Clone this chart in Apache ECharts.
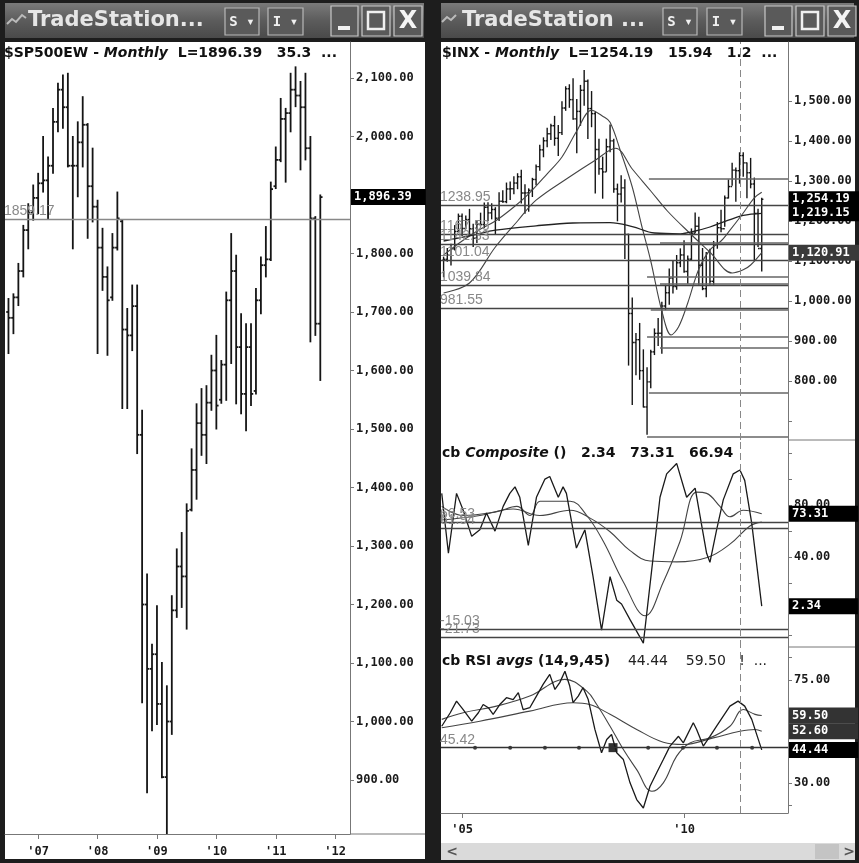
<!DOCTYPE html>
<html>
<head>
<meta charset="utf-8">
<script src="https://cdn.jsdelivr.net/npm/echarts@6/dist/echarts.min.js"></script>
<style>
html,body{margin:0;padding:0;background:#fff}
#chart{width:859px;height:863px}
</style>
</head>
<body>
<div id="chart"></div>
<script>
// ---- left window: $SP500EW monthly bars, Jul 2006 .. Oct 2011
const leftFirst = [2006, 7];
const leftOpen  = [1700,1690,1725,1770,1840,1870,1895,1920,1925,1950,2025,2080,2050,1950,1950,1990,2020,1915,1880,1810,1760,1725,1810,1855,1670,1660,1710,1490,1200,1090,1115,1030,905,1000,1190,1265,1248,1362,1430,1510,1490,1545,1600,1550,1610,1720,1770,1640,1560,1640,1565,1720,1780,1790,1915,1960,2030,2040,2080,2070,2050,1980,1860,1680];
const leftHigh  = [1723,1731,1783,1848,1885,1917,1937,2000,1965,2048,2091,2105,2108,2000,2025,2068,2022,1980,1891,1843,1777,1834,1905,1857,1706,1746,1746,1532,1252,1132,1198,1101,1061,1215,1295,1323,1372,1466,1543,1569,1574,1626,1660,1617,1734,1834,1797,1697,1680,1680,1740,1794,1846,1922,1982,2065,2048,2108,2119,2094,2108,2000,1863,1900];
const leftLow   = [1629,1663,1711,1760,1808,1857,1868,1905,1860,1937,2008,2014,1948,1808,1897,1948,1826,1854,1629,1737,1626,1720,1806,1535,1535,1634,1458,1032,878,984,995,904,807,978,1178,1195,1158,1360,1380,1455,1441,1532,1500,1544,1549,1612,1543,1526,1497,1540,1560,1697,1760,1788,1911,1957,1922,2008,2051,1943,1960,1649,1660,1583];
const leftClose = [1690,1725,1770,1840,1870,1895,1920,1925,1950,2025,2080,2050,1950,1950,1990,2020,1915,1880,1810,1760,1720,1810,1860,1670,1660,1710,1490,1200,1090,1115,1030,905,1000,1190,1265,1248,1360,1430,1510,1490,1545,1600,1540,1610,1720,1770,1640,1560,1640,1560,1720,1780,1790,1910,1960,2030,2040,2080,2070,2050,1980,1860,1680,1896.39];
const leftYTicks = [900,1000,1100,1200,1300,1400,1500,1600,1700,1800,1900,2000,2100];
const leftXTicks = [0,12,24,36,48,60];          // months from Jan 2007
const leftXLabels = ["'07","'08","'09","'10","'11","'12"];

// ---- right window: $INX monthly bars, Aug 2004 .. Oct 2011
const rightFirst = [2004, 8];
const inxOpen  = [1101.7,1104.2,1114.6,1130.2,1173.8,1211.9,1181.3,1203.6,1180.6,1156.9,1191.5,1191.3,1234.2,1220.3,1228.8,1207.0,1249.5,1248.3,1280.1,1280.7,1294.9,1310.6,1270.1,1270.2,1276.7,1303.8,1335.9,1377.9,1400.6,1418.3,1438.2,1406.8,1420.9,1482.4,1530.6,1503.4,1455.3,1474.0,1526.8,1549.4,1481.1,1468.4,1378.6,1330.6,1322.7,1385.6,1400.4,1280.0,1267.4,1282.8,1166.4,968.8,896.2,903.3,825.9,735.1,797.9,872.8,919.1,919.3,987.5,1020.6,1057.1,1036.2,1095.6,1115.1,1073.9,1104.5,1169.4,1186.7,1089.4,1030.7,1101.6,1049.3,1141.2,1183.3,1180.6,1257.6,1286.1,1327.2,1325.8,1363.6,1345.2,1320.6,1292.6,1219.1,1131.2];
const inxHigh  = [1109.7,1131.5,1142.1,1188.5,1217.3,1217.8,1212.4,1229.1,1192.0,1199.6,1219.6,1245.2,1245.9,1243.1,1233.3,1270.6,1275.8,1294.9,1297.6,1310.9,1318.2,1326.7,1290.7,1280.4,1306.7,1340.3,1389.5,1407.9,1431.8,1441.6,1461.6,1438.9,1498.0,1535.6,1540.6,1555.9,1503.9,1539.0,1576.1,1552.8,1523.6,1471.8,1404.1,1359.7,1404.6,1440.2,1404.1,1292.2,1313.2,1303.0,1167.0,1007.5,918.9,943.9,877.9,832.9,876.9,930.2,956.2,996.7,1039.5,1080.2,1101.4,1113.7,1130.4,1150.5,1112.4,1180.2,1219.8,1209.6,1131.2,1121.0,1129.2,1148.9,1196.1,1227.1,1262.6,1302.7,1344.1,1332.3,1370.6,1370.6,1345.2,1356.5,1307.4,1229.3,1256.6];
const inxLow   = [1060.7,1099.2,1090.2,1127.6,1173.8,1163.8,1180.9,1163.7,1136.2,1146.2,1188.3,1183.6,1201.1,1205.4,1168.2,1201.1,1246.6,1245.7,1253.6,1268.4,1280.7,1245.3,1219.3,1224.5,1261.3,1290.9,1327.1,1360.6,1385.9,1404.0,1389.4,1364.0,1416.4,1476.7,1484.2,1454.3,1370.6,1439.3,1489.6,1406.1,1435.7,1270.1,1316.8,1257.0,1324.4,1373.1,1272.0,1200.4,1247.5,1106.4,839.8,741.0,815.7,804.2,735.1,666.8,783.3,866.1,888.9,869.3,978.5,992.0,1020.2,1029.4,1085.9,1071.6,1044.5,1101.4,1170.7,1040.8,1028.3,1010.9,1039.7,1041.2,1131.9,1173.0,1186.6,1257.6,1289.1,1249.1,1294.7,1311.8,1258.1,1282.9,1101.5,1136.2,1074.8];
const inxClose = [1104.2,1114.6,1130.2,1173.8,1211.9,1181.3,1203.6,1180.6,1156.9,1191.5,1191.3,1234.2,1220.3,1228.8,1207.0,1249.5,1248.3,1280.1,1280.7,1294.9,1310.6,1270.1,1270.2,1276.7,1303.8,1335.9,1377.9,1400.6,1418.3,1438.2,1406.8,1420.9,1482.4,1530.6,1503.4,1455.3,1474.0,1526.8,1549.4,1481.1,1468.4,1378.6,1330.6,1322.7,1385.6,1400.4,1280.0,1267.4,1282.8,1166.4,968.8,896.2,903.3,825.9,735.1,797.9,872.8,919.1,919.3,987.5,1020.6,1057.1,1036.2,1095.6,1115.1,1073.9,1104.5,1169.4,1186.7,1089.4,1030.7,1101.6,1049.3,1141.2,1183.3,1180.6,1257.6,1286.1,1327.2,1325.8,1363.6,1345.2,1320.6,1292.3,1218.9,1131.4,1254.19];

// moving averages, [month from Jan 2005, value]
const maFast = [[-5,1115],[0,1150],[5,1180],[9,1200],[14,1235],[18,1268],[23,1318],[27,1360],[31,1425],[35,1477],[38,1462],[40,1447],[43,1370],[46,1285],[48.5,1190],[51,1100],[54,975],[56.5,915],[58.5,935],[61,995],[64,1080],[67,1128],[70,1150],[72,1172],[76,1220],[79,1258],[81,1272]];
const maMid  = [[-5,1020],[2,1045],[9,1135],[15,1200],[20,1252],[29,1310],[36,1352],[41.5,1382],[46,1330],[51,1275],[55.5,1225],[61.5,1170],[67,1122],[73,1070],[76,1078],[78,1090],[81,1121]];
const maSlow = [[-5,1150],[3,1165],[9,1177],[20,1188],[30,1195],[40,1196],[46,1186],[52,1170],[59,1168],[63,1175],[67,1185],[72,1202],[76,1214],[81,1219]];
const priceLevels = [1238.95,1167.53,1142.33,1101.04,1039.84,981.55];   // labelled, full width
const partLevels  = [[50.5,1305],[53.5,1145],[50,1060],[53.5,1043],[51,977],[50,910],[53.5,882],[50.5,770],[50,661]];
const priceYLabels = [800,900,1000,1100,1200,1300,1400,1500];
const priceYTicks  = [700,800,900,1000,1100,1200,1300,1400,1500];

// cb Composite
const compFast = [[-5.5,89],[-3.7,43],[-1.5,89],[0.3,76],[2.6,56],[4.8,61],[6.6,74],[8.9,60],[11.1,79],[12.9,89],[14.3,94],[15.6,86],[17.9,49],[20.1,86],[22.4,100],[23.7,102],[26,86],[27.3,94],[28.2,89],[30.9,47],[33.2,61],[35.4,25],[37.7,-16],[40,25],[41.8,7],[43.1,4],[45.4,-8],[49,-26],[53.5,86],[55.3,104],[58,112],[60.7,86],[63,93],[66.1,43],[67,36],[68.8,61],[70.6,84],[73.3,104],[75.1,107],[76.4,99],[78.3,66],[81,2.34]];
const compMid  = [[-5.5,79],[0.3,72],[9.4,75],[14.8,79],[18.4,72],[21.1,83],[29.2,83],[33.7,72],[38.2,52],[43.6,21],[49.5,-5],[54.4,21],[58.9,52],[63.4,90],[66.1,89],[69.7,79],[72.4,71],[76,76],[81,73.31]];
const compSlow = [[-5.5,68.5],[4.8,72],[13.8,77],[21,72],[29.2,76],[34.6,70],[40,59.5],[45.4,45],[50.8,37],[58,36.4],[66.5,40],[72.4,50],[77.8,64],[81,66.94]];
const compLevels = [66.53,61.94,-15.03,-21.73];

// cb RSI avgs
const rsiFast = [[-5.5,54.8],[-3.2,60.7],[-1.5,65.8],[0.3,62.1],[2.6,57],[4.4,60.7],[5.7,64.3],[7.1,62.9],[8.4,60],[10.2,64.3],[12,67.3],[13.8,66.5],[15.2,69.5],[16.5,62.1],[18.3,62.9],[20.1,68],[21.9,73.1],[23.7,77.5],[25.1,70.9],[26.4,73.9],[27.8,78.9],[29.1,72.4],[30,65.1],[31.4,68],[32.7,71.7],[34.1,66.5],[35.9,53.4],[37.7,43.2],[39.1,49],[40.4,51.2],[41.8,43.2],[43.6,40.2],[45.4,30],[47.2,22.7],[49,19],[50.8,28.5],[52.6,34.4],[54.4,40.2],[56.2,46.1],[58.5,50.4],[59.8,47.5],[62.5,56.3],[63.4,53.4],[65.2,46.1],[67,50.4],[68.8,54.8],[70.6,59.2],[72.4,63.6],[74.6,65.8],[76.4,63.6],[78.3,57.8],[81,44.44]];
const rsiMid  = [[-5.5,57.8],[0.3,60.7],[9.3,63.6],[18.3,68],[27.8,75.3],[33.7,70.2],[36.4,64.3],[40,54.8],[43.6,44.6],[47.2,35.8],[51.3,26.3],[54.4,30],[58,41.7],[61.6,47.5],[67,49.7],[72.4,54.8],[76,62.1],[79.2,60],[81,59.5]];
const rsiSlow = [[-5.5,54.1],[4.8,57],[18.3,61.4],[30,65.1],[34.5,64.3],[40,60],[47.2,53.4],[54.4,47.8],[59.8,46.8],[67.9,49.7],[75.1,52.6],[79.2,53.4],[81,52.6]];
const rsiLevel = 45.42;
const rsiDots = [3.5,13,22.4,31.6,50.3,59.7,68.9,78.4];
const rsiSquare = 40.8;
const cursorMonth = 75.1;

const RX_MIN = -5.7, RX_MAX = 88.1;
const MONO = 'DejaVu Sans Mono';
const SANS = 'DejaVu Sans';

function monthOffset(first, base) {
  return (first[0] - base) * 12 + (first[1] - 1);
}
function bars(first, base, o, h, l, c) {
  const m0 = monthOffset(first, base);
  return o.map((v, i) => [m0 + i, v, h[i], l[i], c[i]]);
}
function fmt(v) {
  return v.toLocaleString('en-US', {minimumFractionDigits: 2, maximumFractionDigits: 2});
}
function renderBar(width) {
  return function (params, api) {
    const m = api.value(0);
    const pH = api.coord([m, api.value(2)]);
    const pL = api.coord([m, api.value(3)]);
    const pO = api.coord([m, api.value(1)]);
    const pC = api.coord([m, api.value(4)]);
    const w = api.size([1, 0])[0] * 0.45;
    const st = {stroke: '#151515', lineWidth: width};
    return {type: 'group', children: [
      {type: 'line', shape: {x1: pH[0], y1: pH[1] - 0.5, x2: pL[0], y2: pL[1] + 0.5}, style: st},
      {type: 'line', shape: {x1: pO[0] - w, y1: pO[1], x2: pO[0], y2: pO[1]}, style: st},
      {type: 'line', shape: {x1: pC[0], y1: pC[1], x2: pC[0] + w, y2: pC[1]}, style: st}
    ]};
  };
}
function valueBox(v, text, bg, padRight) {
  return {yAxis: v, lineStyle: {color: 'rgba(0,0,0,0)', width: 0},
    label: {show: true, position: 'end', distance: 1, formatter: text, color: '#fff', opacity: 1,
      backgroundColor: bg, fontFamily: MONO, fontWeight: 'bold', fontSize: 12,
      padding: [2, padRight || 10, 1, 3], lineHeight: 13}};
}
function levelLine(v, text, color) {
  return {yAxis: v, lineStyle: {color: color || '#555', width: 1.3, type: 'solid'},
    label: {show: !!text, position: 'insideStartTop', distance: [-1, 1], formatter: text || '',
      color: '#888', fontFamily: 'Liberation Sans', fontSize: 14}};
}
function cursorLine() {
  return {xAxis: cursorMonth, lineStyle: {color: '#888', width: 1, type: [7, 4]}, label: {show: false}};
}
function axisLab(values, formatter, margin) {
  return {show: true, customValues: values, formatter: formatter, color: '#1a1a1a',
    fontFamily: MONO, fontWeight: 'bold', fontSize: 12, margin: margin || 6};
}
function valueAxisLine() {
  return {show: true, onZero: false, lineStyle: {color: '#777'}};
}

const chart = echarts.init(document.getElementById('chart'));
const frame = '#1d1d1d';
const titleGrad = {type: 'linear', x: 0, y: 0, x2: 0, y2: 1,
  colorStops: [{offset: 0, color: '#7a7a7a'}, {offset: 0.5, color: '#5c5c5c'}, {offset: 1, color: '#4a4a4a'}]};

function button(x, w, label) {
  return [
    {type: 'rect', shape: {x: x, y: 8, width: w, height: 27}, style: {fill: '#5a5a5a', stroke: '#b8b8b8', lineWidth: 1.2}},
    {type: 'text', x: x + w / 2, y: 22, style: {text: label, fill: '#f0f0f0', font: 'bold 14px ' + MONO, align: 'center', verticalAlign: 'middle'}}
  ];
}
function winButtons(x) {
  return [
    {type: 'rect', shape: {x: x, y: 6, width: 27, height: 30}, style: {fill: '#5a5a5a', stroke: '#c8c8c8', lineWidth: 1.2}},
    {type: 'rect', shape: {x: x + 7, y: 26, width: 12, height: 4}, style: {fill: '#f0f0f0'}},
    {type: 'rect', shape: {x: x + 31, y: 6, width: 28, height: 30}, style: {fill: '#5a5a5a', stroke: '#c8c8c8', lineWidth: 1.2}},
    {type: 'rect', shape: {x: x + 37, y: 12, width: 16, height: 17}, style: {fill: 'none', stroke: '#f0f0f0', lineWidth: 2.5}},
    {type: 'rect', shape: {x: x + 63, y: 6, width: 28, height: 30}, style: {fill: '#5a5a5a', stroke: '#c8c8c8', lineWidth: 1.2}},
    {type: 'text', x: x + 77, y: 22, style: {text: 'X', fill: '#f4f4f4', font: 'bold 24px ' + SANS, align: 'center', verticalAlign: 'middle'}}
  ];
}
const hdrRich = {b: {font: 'bold 14px ' + SANS, fill: '#111'}, i: {font: 'italic bold 14px ' + SANS, fill: '#111'},
  n: {font: '14px ' + SANS, fill: '#222'}};

const graphics = [
  {type: 'rect', shape: {x: 0, y: 0, width: 859, height: 42}, style: {fill: frame}},
  {type: 'rect', shape: {x: 3, y: 3, width: 421, height: 35}, style: {fill: titleGrad}},
  {type: 'rect', shape: {x: 436, y: 3, width: 418, height: 35}, style: {fill: titleGrad}},
  {type: 'rect', shape: {x: 0, y: 0, width: 5, height: 863}, style: {fill: frame}},
  {type: 'rect', shape: {x: 425, y: 0, width: 16, height: 863}, style: {fill: frame}},
  {type: 'rect', shape: {x: 855, y: 0, width: 4, height: 863}, style: {fill: frame}},
  {type: 'rect', shape: {x: 0, y: 859, width: 430, height: 4}, style: {fill: frame}},
  {type: 'rect', shape: {x: 430, y: 860, width: 429, height: 3}, style: {fill: frame}},
  // scrollbar
  {type: 'rect', shape: {x: 441, y: 843, width: 414, height: 17}, style: {fill: '#dadada'}},
  {type: 'rect', shape: {x: 815, y: 844, width: 24, height: 15}, style: {fill: '#c4c4c4'}},
  {type: 'text', x: 452, y: 852, style: {text: '<', fill: '#555', font: 'bold 14px ' + SANS, align: 'center', verticalAlign: 'middle'}},
  {type: 'text', x: 849, y: 852, style: {text: '>', fill: '#555', font: 'bold 14px ' + SANS, align: 'center', verticalAlign: 'middle'}},
  // axis extensions and separators
  {type: 'line', shape: {x1: 350, y1: 834, x2: 425, y2: 834}, style: {stroke: '#777', lineWidth: 1}},
  {type: 'line', shape: {x1: 788, y1: 440, x2: 855, y2: 440}, style: {stroke: '#777', lineWidth: 1}},
  {type: 'line', shape: {x1: 788, y1: 647, x2: 855, y2: 647}, style: {stroke: '#777', lineWidth: 1}},
  // title bar icons and captions
  {type: 'polyline', shape: {points: [[7, 24], [12, 19], [16, 22], [22, 15], [26, 18]]}, style: {stroke: '#bbb', lineWidth: 2, fill: 'none'}},
  {type: 'polyline', shape: {points: [[442, 22], [447, 17], [451, 20], [456, 15]]}, style: {stroke: '#bbb', lineWidth: 2, fill: 'none'}},
  {type: 'text', x: 28, y: 21, style: {text: 'TradeStation...', fill: '#e6e6e6', font: 'bold 21px ' + SANS, verticalAlign: 'middle'}},
  {type: 'text', x: 462, y: 21, style: {text: 'TradeStation ...', fill: '#e6e6e6', font: 'bold 21px ' + SANS, verticalAlign: 'middle'}},
  // chart headers
  {type: 'text', x: 4, y: 53, style: {text: '{b|$SP500EW - }{i|Monthly}{b|  L=1896.39   35.3  ...}', verticalAlign: 'middle', rich: hdrRich}},
  {type: 'text', x: 442, y: 53, style: {text: '{b|$INX - }{i|Monthly}{b|  L=1254.19   15.94   1.2  ...}', verticalAlign: 'middle', rich: hdrRich}},
  {type: 'text', x: 442, y: 453, style: {text: '{b|cb }{i|Composite}{b| ()   2.34   73.31   66.94}', verticalAlign: 'middle', rich: hdrRich}},
  {type: 'text', x: 442, y: 661, style: {text: '{b|cb RSI }{i|avgs}{b| (14,9,45)}{n|    44.44    59.50   !  ...}', verticalAlign: 'middle', rich: hdrRich}}
].concat(button(225, 34, 'S ▾'), button(268, 35, 'I ▾'), winButtons(331),
         button(663, 34, 'S ▾'), button(707, 35, 'I ▾'), winButtons(765));

const lineStyleFast = {color: '#1a1a1a', width: 1.3};
const lineStyleAvg = {color: '#444', width: 1.1};

const option = {
  backgroundColor: '#fff',
  animation: false,
  graphic: graphics,
  grid: [
    {left: 5, top: 42, width: 345, height: 792},
    {left: 441, top: 42, width: 347, height: 398},
    {left: 441, top: 440, width: 347, height: 207},
    {left: 441, top: 647, width: 347, height: 166}
  ],
  xAxis: [
    {gridIndex: 0, type: 'value', min: -6.7, max: 63,
      axisLine: valueAxisLine(),
      axisTick: {show: true, customValues: leftXTicks, length: 5, lineStyle: {color: '#777'}},
      axisLabel: axisLab(leftXTicks, v => leftXLabels[leftXTicks.indexOf(v)], 12),
      splitLine: {show: false}},
    {gridIndex: 1, type: 'value', min: RX_MIN, max: RX_MAX, show: false},
    {gridIndex: 2, type: 'value', min: RX_MIN, max: RX_MAX, show: false},
    {gridIndex: 3, type: 'value', min: RX_MIN, max: RX_MAX,
      axisLine: valueAxisLine(),
      axisTick: {show: true, customValues: [0, 60], length: 5, lineStyle: {color: '#777'}},
      axisLabel: axisLab([0, 60], v => (v === 0 ? "'05" : "'10"), 11),
      splitLine: {show: false}}
  ],
  yAxis: [
    {gridIndex: 0, type: 'value', position: 'right', min: 807.7, max: 2161.5,
      axisLine: valueAxisLine(),
      axisTick: {show: true, customValues: leftYTicks, length: 4, lineStyle: {color: '#777'}},
      axisLabel: axisLab(leftYTicks, fmt), splitLine: {show: false}},
    {gridIndex: 1, type: 'value', position: 'right', min: 652.5, max: 1647.5,
      axisLine: valueAxisLine(),
      axisTick: {show: true, customValues: priceYTicks, length: 4, lineStyle: {color: '#777'}},
      axisLabel: axisLab(priceYLabels, fmt), splitLine: {show: false}},
    {gridIndex: 2, type: 'value', position: 'right', min: -29, max: 130,
      axisLine: valueAxisLine(),
      axisTick: {show: true, customValues: [-20, 0, 20, 40, 60, 80, 100, 120], length: 4, lineStyle: {color: '#777'}},
      axisLabel: axisLab([40, 80], fmt), splitLine: {show: false}},
    {gridIndex: 3, type: 'value', position: 'right', min: 16.8, max: 89.5,
      axisLine: valueAxisLine(),
      axisTick: {show: true, customValues: [20, 30, 45, 60, 75, 85], length: 4, lineStyle: {color: '#777'}},
      axisLabel: axisLab([30, 75], fmt), splitLine: {show: false}}
  ],
  series: [
    {type: 'line', xAxisIndex: 0, yAxisIndex: 0, data: [], clip: false,
      markLine: {symbol: 'none', silent: true, animation: false,
        data: [levelLine(1859.17, '1859.17', '#888'), valueBox(1896.39, '1,896.39', '#000', 14)]}},
    {type: 'custom', xAxisIndex: 0, yAxisIndex: 0, clip: true, z: 3,
      renderItem: renderBar(1.8), encode: {x: 0, y: [1, 2, 3, 4]},
      data: bars(leftFirst, 2007, leftOpen, leftHigh, leftLow, leftClose)},

    {type: 'custom', xAxisIndex: 1, yAxisIndex: 1, clip: true,
      renderItem: renderBar(1.4), encode: {x: 0, y: [1, 2, 3, 4]},
      data: bars(rightFirst, 2005, inxOpen, inxHigh, inxLow, inxClose)},
    {type: 'line', xAxisIndex: 1, yAxisIndex: 1, data: maFast, smooth: 0.35, showSymbol: false, lineStyle: lineStyleAvg, clip: true},
    {type: 'line', xAxisIndex: 1, yAxisIndex: 1, data: maMid, smooth: 0.35, showSymbol: false, lineStyle: lineStyleAvg, clip: true},
    {type: 'line', xAxisIndex: 1, yAxisIndex: 1, data: maSlow, smooth: 0.35, showSymbol: false, lineStyle: {color: '#222', width: 1.3}, clip: true},
    {type: 'line', xAxisIndex: 1, yAxisIndex: 1, data: [], clip: false,
      markLine: {symbol: 'none', silent: true, animation: false,
        data: priceLevels.map(v => levelLine(v, String(v.toFixed(2)), '#444'))
          .concat(partLevels.map(p => [{coord: [p[0], p[1]], lineStyle: {color: '#666', width: 1.6, type: 'solid'}, label: {show: false}}, {coord: [RX_MAX, p[1]]}]))
          .concat([cursorLine(),
            valueBox(1120.91, '1,120.91', '#3a3a3a'),
            valueBox(1219.15, '1,219.15', '#000'),
            valueBox(1254.19, '1,254.19', '#000')])}},

    {type: 'line', xAxisIndex: 2, yAxisIndex: 2, data: compSlow, smooth: 0.4, showSymbol: false, lineStyle: lineStyleAvg, clip: true},
    {type: 'line', xAxisIndex: 2, yAxisIndex: 2, data: compMid, smooth: 0.4, showSymbol: false, lineStyle: lineStyleAvg, clip: true},
    {type: 'line', xAxisIndex: 2, yAxisIndex: 2, data: compFast, showSymbol: false, lineStyle: lineStyleFast, clip: true},
    {type: 'line', xAxisIndex: 2, yAxisIndex: 2, data: [], clip: false,
      markLine: {symbol: 'none', silent: true, animation: false,
        data: compLevels.map(v => levelLine(v, v.toFixed(2), '#444'))
          .concat([cursorLine(), valueBox(73.31, '73.31', '#000', 30), valueBox(2.34, '2.34', '#000', 37)])}},

    {type: 'line', xAxisIndex: 3, yAxisIndex: 3, data: rsiSlow, smooth: 0.4, showSymbol: false, lineStyle: lineStyleAvg, clip: true},
    {type: 'line', xAxisIndex: 3, yAxisIndex: 3, data: rsiMid, smooth: 0.4, showSymbol: false, lineStyle: lineStyleAvg, clip: true},
    {type: 'line', xAxisIndex: 3, yAxisIndex: 3, data: rsiFast, showSymbol: false, lineStyle: lineStyleFast, clip: true},
    {type: 'line', xAxisIndex: 3, yAxisIndex: 3, data: [], clip: false,
      markLine: {symbol: 'none', silent: true, animation: false,
        data: [levelLine(rsiLevel, rsiLevel.toFixed(2), '#333'), cursorLine(),
          valueBox(59.50, '59.50', '#333', 30), valueBox(52.60, '52.60', '#333', 30), valueBox(44.44, '44.44', '#000', 30)]}},
    {type: 'scatter', xAxisIndex: 3, yAxisIndex: 3, symbol: 'circle', symbolSize: 4,
      itemStyle: {color: '#111'}, data: rsiDots.map(m => [m, rsiLevel])},
    {type: 'scatter', xAxisIndex: 3, yAxisIndex: 3, symbol: 'rect', symbolSize: 9,
      itemStyle: {color: '#000'}, data: [[rsiSquare, rsiLevel]]}
  ]
};
chart.setOption(option);
</script>
</body>
</html>
